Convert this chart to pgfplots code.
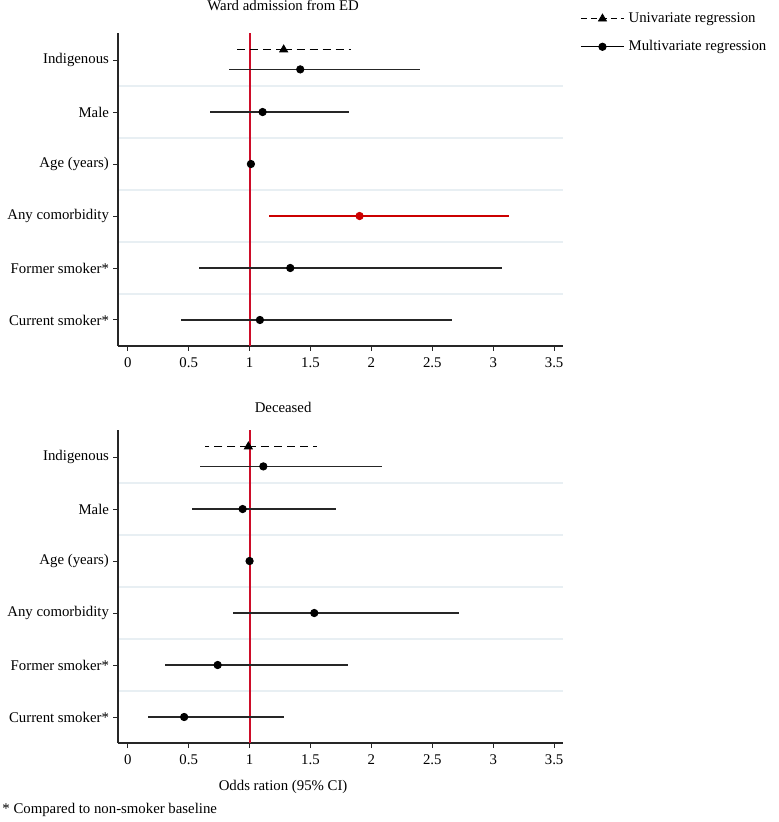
\documentclass[border=0pt]{standalone}
\usepackage{fontspec}
\setmainfont{Liberation Serif}
\usepackage{pgfplots}
\usepackage{pgfplotstable}
\pgfplotsset{compat=1.18}
\definecolor{refline}{RGB}{205,12,40}
\definecolor{ptred}{RGB}{204,0,0}
\definecolor{gridc}{RGB}{232,239,243}

% odds ratios with 95% CI, y = row position (Indigenous on top)
\pgfplotstableread{
x     y    lo    hi
1.280 6.20 0.886 1.829
}\wardUni
\pgfplotstableread{
x     y    lo    hi
1.416 5.82 0.834 2.400
1.107 5    0.678 1.813
1.011 4    1.000 1.022
1.334 2    0.585 3.068
1.085 1    0.440 2.658
}\wardMulti
\pgfplotstableread{
x     y    lo    hi
1.903 3    1.162 3.130
}\wardRed
\pgfplotstableread{
x     y    lo    hi
0.990 6.20 0.632 1.550
}\deadUni
\pgfplotstableread{
x     y    lo    hi
1.113 5.82 0.593 2.090
0.943 5    0.525 1.709
1.000 4    0.990 1.010
1.531 3    0.865 2.720
0.738 2    0.303 1.806
0.463 1    0.169 1.283
}\deadMulti

\newcommand{\fs}{\fontsize{7.4}{9}\selectfont}

\pgfplotsset{
  forest/.style={
    scale only axis, width=222.5pt, height=156.5pt,
    xmin=-0.08, xmax=3.573, ymin=0.5, ymax=6.52,
    axis x line*=bottom, axis y line*=left,
    axis line style={black!85, line width=0.6pt},
    xtick={0,0.5,...,3.5}, ytick={1,...,6},
    yticklabels={Current smoker*, Former smoker*, Any comorbidity, Age (years), Male, Indigenous},
    minor ytick={1.5,2.5,3.5,4.5,5.5}, yminorgrids,
    minor grid style={gridc, line width=0.7pt},
    minor tick length=0pt, major tick length=2.5pt, tick align=outside,
    tick style={black!85, line width=0.5pt},
    font=\fs, ticklabel style={font=\fs},
    yticklabel style={xshift=1.5pt},
    /pgf/number format/assume math mode=true,
    title style={at={(axis description cs:0.371,1)}, anchor=center, font=\fs},
  },
  uni/.style={black, only marks, mark=triangle*, mark size=2.3pt,
    error bars/x dir=both, error bars/x explicit, error bars/error mark=none,
    error bars/error bar style={black, line width=0.65pt, dash pattern=on 4pt off 2.5pt}},
  multi/.style={black, only marks, mark=*, mark size=1.85pt,
    error bars/x dir=both, error bars/x explicit, error bars/error mark=none,
    error bars/error bar style={black!85, line width=0.65pt}},
  refx/.style={draw=refline, line width=1pt, mark=none, forget plot},
  /pgfplots/table/ci/.style={x=x, y=y, x error plus expr=\thisrow{hi}-\thisrow{x}, x error minus expr=\thisrow{x}-\thisrow{lo}},
}

\begin{document}
\begin{tikzpicture}
\useasboundingbox (0,0) rectangle (389pt,-411pt);

\begin{axis}[forest, at={(59pt,-16.5pt)}, anchor=north west,
  title={Ward admission from ED}, title style={yshift=8pt},
  legend style={at={(axis description cs:1.038,1.08)}, anchor=north west, draw=none, fill=none,
    font=\fs, inner sep=0pt, row sep=3.5pt, cells={anchor=west}},
]
\addplot[refx] coordinates {(1,0.5) (1,6.52)};
\addplot[uni, legend image code/.code={
    \draw[black, line width=0.65pt, dash pattern=on 3pt off 2pt] (0pt,0pt) -- (21.5pt,0pt);
    \draw[black, mark=triangle*, mark size=2.3pt] plot coordinates {(10.75pt,0pt)};}]
  table[ci] {\wardUni};
\addlegendentry{Univariate regression}
\addplot[multi, legend image code/.code={
    \draw[black, line width=0.65pt] (0pt,0pt) -- (21.5pt,0pt);
    \draw[black, mark=*, mark size=1.85pt] plot coordinates {(10.75pt,0pt)};}]
  table[ci] {\wardMulti};
\addlegendentry{Multivariate regression}
\addplot[multi, ptred, forget plot, error bars/error bar style={ptred, line width=0.65pt}]
  table[ci] {\wardRed};
\end{axis}

\begin{axis}[forest, at={(59pt,-215pt)}, anchor=north west,
  title={Deceased}, title style={yshift=5.5pt},
  xlabel={Odds ration (95\% CI)},
  every axis x label/.style={at={(axis description cs:0.371,0)}, anchor=center, yshift=-22pt, font=\fs},
]
\addplot[refx] coordinates {(1,0.5) (1,6.52)};
\addplot[uni] table[ci] {\deadUni};
\addplot[multi] table[ci] {\deadMulti};
\end{axis}

\node[anchor=west, inner sep=0pt, font=\fs] at (1pt,-405pt) {* Compared to non-smoker baseline};
\end{tikzpicture}
\end{document}
